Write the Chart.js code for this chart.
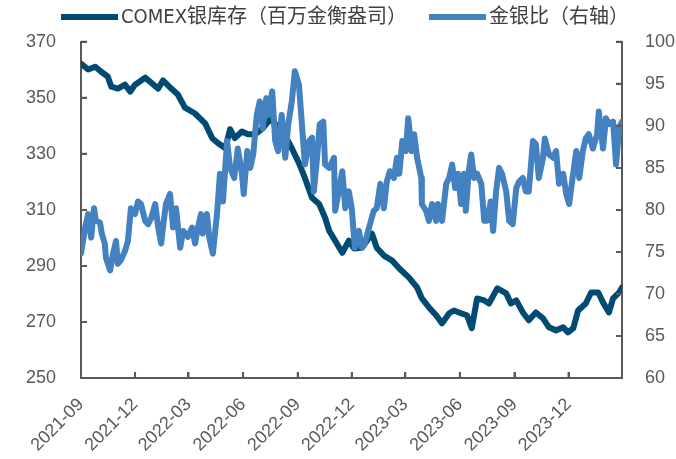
<!DOCTYPE html>
<html>
<head>
<meta charset="utf-8">
<script src="https://cdn.jsdelivr.net/npm/chart.js@4/dist/chart.umd.min.js"></script>
<style>
  html, body { margin: 0; padding: 0; background: #fff; }
  #wrap { width: 676px; height: 459px; }
</style>
</head>
<body>
<div id="wrap"><canvas id="c"></canvas></div>
<script>
const stockLabel = 'COMEX银库存（百万金衡盎司）';
const ratioLabel = '金银比（右轴）';

const stockDates = ['2021-09-01','2021-09-13','2021-09-25','2021-10-05','2021-10-16','2021-10-22','2021-11-02','2021-11-14','2021-11-23','2021-12-01','2021-12-18','2022-01-09','2022-01-17','2022-01-31','2022-02-11','2022-02-23','2022-03-12','2022-03-29','2022-04-10','2022-04-20','2022-05-02','2022-05-10','2022-05-18','2022-05-30','2022-06-09','2022-06-21','2022-07-04','2022-07-16','2022-08-05','2022-08-22','2022-09-03','2022-09-13','2022-09-25','2022-10-07','2022-10-17','2022-10-24','2022-11-03','2022-11-15','2022-11-26','2022-12-05','2022-12-18','2023-01-04','2023-01-12','2023-01-24','2023-02-07','2023-02-19','2023-03-07','2023-03-21','2023-03-29','2023-04-10','2023-04-22','2023-05-02','2023-05-14','2023-05-22','2023-06-03','2023-06-13','2023-06-21','2023-06-30','2023-07-12','2023-07-20','2023-08-03','2023-08-18','2023-08-26','2023-09-04','2023-09-15','2023-09-25','2023-10-07','2023-10-19','2023-10-29','2023-11-10','2023-11-22','2023-11-30','2023-12-09','2023-12-17','2023-12-30','2024-01-08','2024-01-20','2024-01-28','2024-02-07','2024-02-14','2024-02-24','2024-02-29'];
const stockValues = [362.2,360.1,361.1,359.3,357.6,354.0,353.3,354.7,352.2,354.7,357.2,353.3,356.2,353.3,351.2,346.5,344.4,340.9,335.6,333.8,332.0,338.8,335.6,338.0,337.0,337.0,339.1,342.3,338.8,332.0,326.7,321.4,314.3,312.1,307.2,302.5,299.0,294.7,299.0,296.2,296.5,301.5,296.5,293.7,291.9,289.1,285.9,282.3,278.4,275.2,272.4,269.5,273.1,274.1,273.1,272.4,267.8,278.4,277.7,276.6,282.0,280.2,276.6,277.7,273.4,270.6,273.4,271.3,268.1,267.0,268.1,266.3,267.8,274.1,276.6,280.5,280.5,277.0,273.4,278.4,280.5,282.3];

const ratioDates = ['2021-09-01','2021-09-08','2021-09-13','2021-09-18','2021-09-23','2021-09-26','2021-10-03','2021-10-06','2021-10-11','2021-10-13',
  '2021-10-20','2021-10-25','2021-10-30','2021-11-02','2021-11-07','2021-11-14','2021-11-19','2021-11-24','2021-12-01','2021-12-06',
  '2021-12-11','2021-12-18','2021-12-23','2021-12-28','2022-01-04','2022-01-09','2022-01-14','2022-01-17','2022-01-22','2022-01-29',
  '2022-02-03','2022-02-08','2022-02-15','2022-02-20','2022-02-28','2022-03-07','2022-03-12','2022-03-17','2022-03-22','2022-03-25',
  '2022-04-01','2022-04-05','2022-04-11','2022-04-18','2022-04-23','2022-04-28','2022-05-05','2022-05-10','2022-05-17','2022-05-23',
  '2022-05-30','2022-06-02','2022-06-08','2022-06-13','2022-06-18','2022-06-24','2022-06-29','2022-07-04','2022-07-10','2022-07-13',
  '2022-07-20','2022-07-25','2022-07-30','2022-08-05','2022-08-11','2022-08-16','2022-08-22','2022-08-27','2022-09-03','2022-09-08',
  '2022-09-13','2022-09-20','2022-09-25','2022-09-28','2022-10-03','2022-10-08','2022-10-14','2022-10-17','2022-10-24','2022-11-01',
  '2022-11-03','2022-11-09','2022-11-15','2022-11-20','2022-11-26','2022-12-01','2022-12-06','2022-12-13','2022-12-18','2022-12-23',
  '2022-12-30','2023-01-07','2023-01-12','2023-01-18','2023-01-24','2023-01-29','2023-02-03','2023-02-10','2023-02-15','2023-02-19',
  '2023-02-24','2023-03-02','2023-03-06','2023-03-12','2023-03-16','2023-03-21','2023-03-28','2023-03-29','2023-04-05','2023-04-10',
  '2023-04-15','2023-04-22','2023-04-25','2023-05-02','2023-05-09','2023-05-14','2023-05-19','2023-05-24','2023-05-29','2023-06-03',
  '2023-06-08','2023-06-11','2023-06-16','2023-06-20','2023-06-25','2023-06-30','2023-07-07','2023-07-12','2023-07-17','2023-07-23',
  '2023-07-27','2023-08-01','2023-08-06','2023-08-11','2023-08-18','2023-08-23','2023-08-29','2023-09-04','2023-09-09','2023-09-15',
  '2023-09-20','2023-09-25','2023-10-02','2023-10-07','2023-10-12','2023-10-19','2023-10-22','2023-10-29','2023-11-05','2023-11-10',
  '2023-11-15','2023-11-22','2023-11-27','2023-12-02','2023-12-07','2023-12-14','2023-12-19','2023-12-25','2023-12-30','2024-01-04',
  '2024-01-11','2024-01-18','2024-01-21','2024-01-28','2024-02-02','2024-02-07','2024-02-14','2024-02-19','2024-02-24','2024-02-29'];
const ratioValues = [74.8,77.9,79.5,76.7,80.2,78.7,78.5,77.2,76.0,74.3,
  72.8,74.8,76.3,73.6,74.0,75.1,76.3,80.2,79.5,81.0,
  80.7,78.7,78.3,79.0,80.7,77.9,76.0,77.9,80.7,81.9,
  77.9,80.2,75.5,77.5,76.8,77.9,76.0,77.9,79.5,77.2,
  79.5,76.7,74.8,79.5,84.3,81.0,88.2,85.0,83.8,87.3,
  84.3,81.9,87.0,85.0,86.6,91.3,92.9,89.7,93.3,91.3,
  94.1,88.2,87.0,91.3,86.2,90.2,92.9,96.5,94.9,90.2,
  85.4,88.2,88.6,82.2,85.8,90.2,90.5,85.4,85.0,86.2,
  79.9,82.2,84.6,80.2,82.2,80.2,75.5,77.5,75.5,76.0,
  77.9,79.9,80.2,83.1,80.2,83.4,84.6,83.8,86.2,84.3,
  88.2,87.0,90.9,87.0,89.0,86.2,83.8,80.7,79.9,78.7,
  80.7,78.7,80.7,78.7,83.1,83.8,85.4,82.6,84.3,80.7,
  84.3,79.9,84.6,86.6,83.8,84.3,83.1,78.7,78.7,81.0,
  77.5,82.2,85.0,84.3,82.2,78.7,78.3,82.6,83.4,83.8,
  82.2,82.2,88.2,87.8,83.8,86.2,88.5,86.6,86.2,87.0,
  83.1,84.3,81.9,80.7,83.4,87.0,83.8,87.0,88.5,89.0,
  87.3,89.0,91.7,87.3,90.9,90.2,90.5,85.4,89.7,90.5];

const tickDates = ['2021-09-01','2021-12-01','2022-03-01','2022-06-01','2022-09-01','2022-12-01','2023-03-01','2023-06-01','2023-09-01','2023-12-01'];
const tickLabels = ['2021-09','2021-12','2022-03','2022-06','2022-09','2022-12','2023-03','2023-06','2023-09','2023-12'];

const startDate = '2021-09-01';
const endDate = '2024-02-29';

const colorStock = '#014b73';
const colorRatio = '#4381c1';
const axisColor = '#595959';
const textColor = '#595959';

// days since start
const day = (s) => (Date.parse(s) - Date.parse(startDate)) / 86400000;
const toPoints = (dates, values) => dates.map((d, i) => ({ x: day(d), y: values[i] }));

const tickFont = { family: '"Liberation Sans", Arial, sans-serif', size: 18 };
const legendFont = '20px "Liberation Sans Narrow", "DejaVu Sans Condensed", "Noto Sans CJK SC", sans-serif';

// legend drawn as thick line + label, like the office chart
const lineLegend = {
    id: 'lineLegend',
    afterDraw(chart) {
        const ctx = chart.ctx;
        const items = [
            { text: stockLabel, color: colorStock },
            { text: ratioLabel, color: colorRatio },
        ];
        const sample = 57, gap = 3, spacing = 22, y = 17;
        ctx.save();
        ctx.font = legendFont;
        const widths = items.map(it => sample + gap + ctx.measureText(it.text).width);
        const total = widths.reduce((a, b) => a + b, 0) + spacing * (items.length - 1);
        let x = chart.width / 2 + 7 - total / 2;
        items.forEach((it, i) => {
            ctx.strokeStyle = it.color;
            ctx.lineWidth = 6;
            ctx.beginPath();
            ctx.moveTo(x, y);
            ctx.lineTo(x + sample, y);
            ctx.stroke();
            ctx.fillStyle = '#404040';
            ctx.textBaseline = 'middle';
            ctx.textAlign = 'left';
            ctx.fillText(it.text, x + sample + gap, y + 1);
            x += widths[i] + spacing;
        });
        ctx.restore();
    },
};

// short tick marks pointing into the plot
const innerTicks = {
    id: 'innerTicks',
    afterDraw(chart) {
        const ctx = chart.ctx;
        const area = chart.chartArea;
        const len = 6;
        ctx.save();
        ctx.strokeStyle = axisColor;
        ctx.lineWidth = 2;
        ctx.beginPath();
        chart.scales.x.ticks.forEach(t => {
            const px = chart.scales.x.getPixelForValue(t.value);
            ctx.moveTo(px, area.bottom);
            ctx.lineTo(px, area.bottom - len);
        });
        chart.scales.y.ticks.forEach(t => {
            const py = chart.scales.y.getPixelForValue(t.value);
            ctx.moveTo(area.left, py);
            ctx.lineTo(area.left + len, py);
        });
        chart.scales.y1.ticks.forEach(t => {
            const py = chart.scales.y1.getPixelForValue(t.value);
            ctx.moveTo(area.right, py);
            ctx.lineTo(area.right - len, py);
        });
        ctx.stroke();
        ctx.restore();
    },
};

const axisGrid = { drawOnChartArea: false, drawTicks: true, tickLength: -6, color: axisColor, lineWidth: 2 };
const axisBorder = { display: true, color: axisColor, width: 2 };

new Chart(document.getElementById('c'), {
    type: 'line',
    data: {
        datasets: [
            {
                label: ratioLabel,
                data: toPoints(ratioDates, ratioValues),
                yAxisID: 'y1',
                borderColor: colorRatio,
                backgroundColor: colorRatio,
                borderWidth: 6,
                pointRadius: 0,
                tension: 0,
                borderJoinStyle: 'round',
                borderCapStyle: 'round',
            },
            {
                label: stockLabel,
                data: toPoints(stockDates, stockValues),
                yAxisID: 'y',
                borderColor: colorStock,
                backgroundColor: colorStock,
                borderWidth: 6,
                pointRadius: 0,
                tension: 0,
                borderJoinStyle: 'round',
                borderCapStyle: 'round',
            },
        ],
    },
    options: {
        responsive: true,
        maintainAspectRatio: false,
        animation: false,
        layout: { padding: { top: 40, left: 0, right: 0, bottom: 0 } },
        plugins: {
            legend: { display: false },
            tooltip: { enabled: false },
        },
        scales: {
            x: {
                type: 'linear',
                min: day(startDate),
                max: day(endDate),
                grid: axisGrid,
                border: axisBorder,
                afterBuildTicks: (scale) => {
                    scale.ticks = tickDates.map(d => ({ value: day(d) }));
                },
                afterFit: (scale) => { scale.height = 81; },
                ticks: {
                    autoSkip: false,
                    maxRotation: 45,
                    minRotation: 45,
                    padding: 22,
                    color: textColor,
                    font: tickFont,
                    callback: (value, index) => tickLabels[index],
                },
            },
            y: {
                position: 'left',
                min: 250,
                max: 370,
                grid: axisGrid,
                border: axisBorder,
                afterFit: (scale) => { scale.width = 81; },
                ticks: { stepSize: 20, padding: 31, color: textColor, font: tickFont },
            },
            y1: {
                position: 'right',
                min: 60,
                max: 100,
                grid: axisGrid,
                border: axisBorder,
                afterFit: (scale) => { scale.width = 54; },
                ticks: { stepSize: 5, padding: 29, color: textColor, font: tickFont },
            },
        },
    },
    plugins: [lineLegend, innerTicks],
});
</script>
</body>
</html>
